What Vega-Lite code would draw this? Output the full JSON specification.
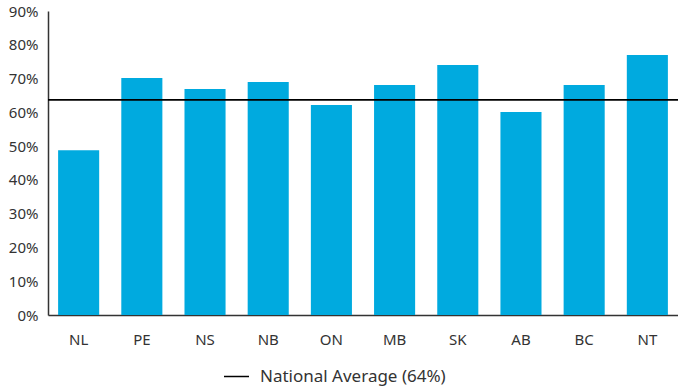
{
  "$schema": "https://vega.github.io/schema/vega-lite/v6.json",
  "width": 630,
  "height": 304,
  "autosize": {"type": "none"},
  "padding": {"left": 48, "top": 11, "right": 0, "bottom": 73},
  "background": "white",
  "config": {
    "view": {"stroke": null},
    "font": "Noto Sans",
    "axis": {"labelFont": "Noto Sans", "labelColor": "#333333", "labelFontSize": 15, "domainColor": "#333333", "domainWidth": 1.5, "grid": false, "ticks": false, "title": null, "labelOverlap": false},
    "legend": {"labelFont": "Noto Sans", "labelFontSize": 17, "labelColor": "#333333", "labelLimit": 0}
  },
  "datasets": {
    "bars": [
      {"province": "NL", "share": 0.488},
      {"province": "PE", "share": 0.702},
      {"province": "NS", "share": 0.669},
      {"province": "NB", "share": 0.69},
      {"province": "ON", "share": 0.622},
      {"province": "MB", "share": 0.681},
      {"province": "SK", "share": 0.74},
      {"province": "AB", "share": 0.601},
      {"province": "BC", "share": 0.681},
      {"province": "NT", "share": 0.77}
    ],
    "avg": [{"label": "National Average (64%)", "share": 0.637}]
  },
  "layer": [
    {
      "data": {"name": "bars"},
      "mark": {"type": "bar", "color": "#00AADF"},
      "encoding": {
        "x": {"field": "province", "type": "nominal", "sort": null,
              "scale": {"paddingInner": 0.35, "paddingOuter": 0.16},
              "axis": {"labelAngle": 0, "labelPadding": 17, "title": null, "labelOverlap": false}},
        "y": {"field": "share", "type": "quantitative",
              "scale": {"domain": [0, 0.9], "nice": false},
              "axis": {"values": [0, 0.1, 0.2, 0.3, 0.4, 0.5, 0.6, 0.7, 0.8, 0.9], "format": ".0%", "labelPadding": 10, "title": null, "labelOverlap": false, "labelFlush": false}}
      }
    },
    {
      "data": {"name": "avg"},
      "mark": {"type": "rule", "strokeWidth": 1.6},
      "encoding": {
        "y": {"field": "share", "type": "quantitative", "axis": {"values": [0, 0.1, 0.2, 0.3, 0.4, 0.5, 0.6, 0.7, 0.8, 0.9], "format": ".0%", "labelPadding": 10, "title": null, "labelOverlap": false, "labelFlush": false}},
        "stroke": {"field": "label", "type": "nominal",
                   "scale": {"range": ["#000000"]},
                   "legend": {"title": null, "orient": "none", "legendX": 175, "legendY": 352, "symbolType": "stroke", "symbolSize": 625, "symbolStrokeWidth": 1.5, "labelOffset": 10}}
      }
    }
  ]
}
